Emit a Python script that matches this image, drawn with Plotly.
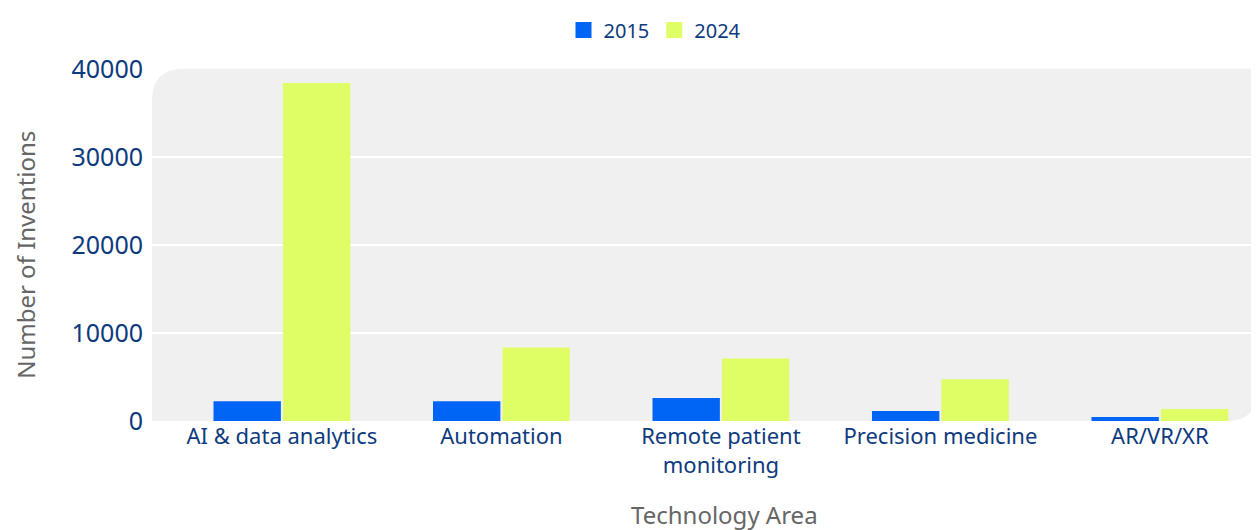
import plotly.graph_objects as go

categories = ["AI & data analytics", "Automation", "Remote patient<br>monitoring",
              "Precision medicine", "AR/VR/XR"]
values_2015 = [2250, 2250, 2600, 1130, 450]
values_2024 = [38400, 8350, 7100, 4740, 1350]
y_ticks = [0, 10000, 20000, 30000, 40000]
series_names = ["2015", "2024"]
series_colors = ["#0064F5", "#DFFD65"]

NAVY = "#0E3A7E"
GRAY = "#666666"
FONT = "Noto Sans"

fig = go.Figure()
for name, vals, col in zip(series_names, [values_2015, values_2024], series_colors):
    fig.add_trace(go.Bar(name=name, x=categories, y=vals, marker_color=col,
                         marker_line_width=0, showlegend=False, legendgroup=name))
# legend entries with larger square symbols
for name, col in zip(series_names, series_colors):
    fig.add_trace(go.Scatter(name=name, x=[None], y=[None], mode="markers",
                             marker=dict(symbol="square", size=16, color=col),
                             legendgroup=name, showlegend=True))

OFF = 8  # page body offset
W, H = 1251, 522
ml, mr, mt, mb = 144, 1, 58, 109
pw, ph = W - ml - mr, H - mt - mb
r = 32
rx, ry = r / pw, r / ph
path = (f"M 0,0 L {1-rx},0 Q 1,0 1,{ry} L 1,1 L {rx},1 Q 0,1 0,{1-ry} Z")
fig.add_shape(type="path", path=path, xref="paper", yref="paper",
              fillcolor="#F0F0F0", line_width=0, layer="below")

def px_x(x):
    return (x - OFF - ml) / pw

def px_y(y):
    return (H - mb - (y - OFF)) / ph

fig.update_layout(
    width=W, height=H,
    margin=dict(l=ml, r=mr, t=mt, b=mb),
    paper_bgcolor="white", plot_bgcolor="rgba(0,0,0,0)",
    barmode="group", bargap=0.367, bargroupgap=0.03,
    font=dict(family=FONT, color=NAVY),
    showlegend=True,
    legend=dict(orientation="h", xref="container", yref="container",
                x=(655 - OFF) / W, xanchor="center", y=0.995, yanchor="top",
                font=dict(size=20, color=NAVY, family=FONT),
                itemsizing="trace", traceorder="normal"),
    xaxis=dict(range=[-0.592, 4.447], showgrid=False, zeroline=False, showline=False,
               tickfont=dict(size=22, color=NAVY, family=FONT), ticks="", ticklabelstandoff=0),
    yaxis=dict(range=[0, 40000], tickvals=y_ticks, ticktext=[str(v) for v in y_ticks],
               showgrid=True, gridcolor="white", gridwidth=2, zeroline=False, showline=False,
               tickfont=dict(size=25, color=NAVY, family=FONT), ticks="", ticklabelstandoff=8),
    annotations=[
        dict(text="Number of Inventions", xref="paper", yref="paper",
             x=-ml / pw, y=px_y(254), xanchor="left", yanchor="middle", borderpad=0,
             textangle=-90, showarrow=False, font=dict(size=24, color=GRAY, family=FONT)),
        dict(text="Technology Area", xref="paper", yref="paper",
             x=px_x(724.5), y=px_y(515), xanchor="center", yanchor="middle",
             showarrow=False, font=dict(size=24, color=GRAY, family=FONT)),
    ],
)

fig.write_html("out.html")
